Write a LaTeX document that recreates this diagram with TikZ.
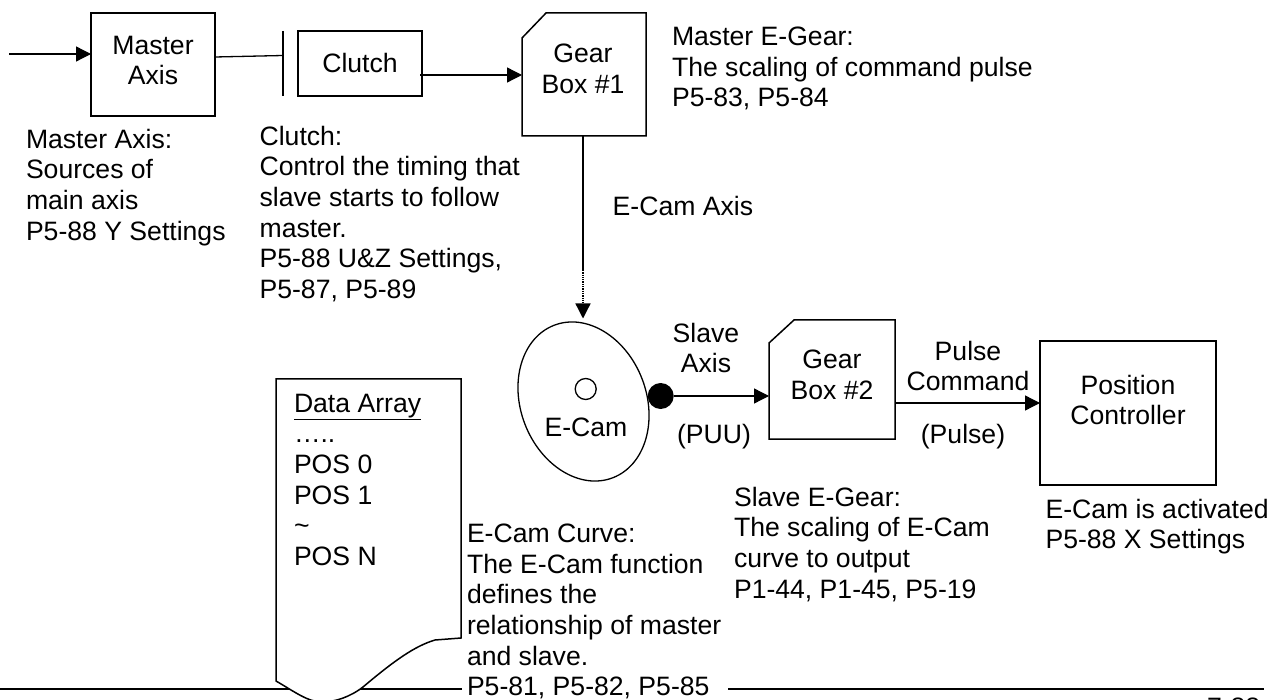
\documentclass[tikz,border=0pt]{standalone}
\usepackage{fontspec}
\setmainfont{Liberation Sans}
\usetikzlibrary{arrows.meta,shapes.geometric}
\tikzset{
 x=1pt,y=-1pt,
 box/.style={draw=black,line width=1.5pt,inner sep=0pt,outer sep=0pt},
 ghost/.style={inner sep=0pt,outer sep=0pt},
 conn/.style={draw=black,line width=1.3pt},
 arr/.style={conn,-{Triangle[length=15pt,width=15pt]}},
 txt/.style={inner sep=0pt,outer sep=0pt,align=left,anchor=north west,font=\fontsize{26.6}{30.7}\selectfont},
 ctr/.style={inner sep=0pt,outer sep=0pt,align=center,anchor=north,font=\fontsize{26.6}{30.7}\selectfont},
}
\begin{document}
\begin{tikzpicture}
\useasboundingbox (0,0) rectangle (1274,700);
\fill[white] (0,0) rectangle (1274,700);
% bottom rule
\coordinate (ruleA) at (0,689); \coordinate (ruleB) at (462,689);
\coordinate (ruleC) at (728,689); \coordinate (ruleD) at (1264,689);
\draw[conn,line width=1.8pt] (ruleA)--(ruleB);
\draw[conn,line width=1.8pt] (ruleC)--(ruleD);
% boxes
\node[box,minimum width=124pt,minimum height=103pt] (master) at (153,64.5) {};
\node[ctr] (masterT) at (153,36) {Master\\Axis};
\node[box,minimum width=124pt,minimum height=65pt] (clutch) at (360,63.5) {};
\node[ctr] (clutchT) at (360,53.5) {Clutch};
\coordinate (barT) at (283,31); \coordinate (barB) at (283,96);
\draw[conn] (barT)--(barB);
\coordinate (barM) at (283,55.5); \coordinate (masterR) at (215,57);
\draw[conn] (master.east |- masterR)--(barM);
\coordinate (inS) at (9,54);
\draw[arr] (inS)--(master.west |- inS);
% gear box 1
\node[ghost,minimum width=124pt,minimum height=123pt] (gear1) at (584,74.5) {};
\draw[box,line join=miter] (546,13)--(gear1.north east)--(gear1.south east)--(gear1.south west)--(522,38)--cycle;
\node[ctr] (gear1T) at (583,44) {Gear\\Box \#1};
\coordinate (clS) at (420,75);
\draw[arr] (clS)--(gear1.west |- clS);
\coordinate (g1M) at (583,270);
\coordinate (camTip) at (583,318.5);
\draw[conn] (gear1.south -| g1M)--(g1M);
\draw[conn,densely dotted,-{Triangle[length=15pt,width=15pt]}] (g1M)--(camTip);
% e-cam
\node[draw=black,line width=1.3pt,ellipse,inner sep=0pt,minimum width=125.6pt,minimum height=163.4pt,rotate=21] (cam) at (583.5,401.5) {};
\node[draw=black,line width=1.3pt,circle,inner sep=0pt,minimum size=21pt] (hole) at (585.7,389) {};
\node[ctr] (camT) at (586,417.5) {E-Cam};
\node[fill=black,circle,inner sep=0pt,minimum size=26pt] (dot) at (660.7,396) {};
\node[ctr] (slaveT) at (706,322.8) {Slave\\Axis};
\node[ctr] (puuT) at (714,423.8) {(PUU)};
% gear box 2
\node[ghost,minimum width=126pt,minimum height=119pt] (gear2) at (832,379.5) {};
\draw[box,line join=miter] (794,320)--(gear2.north east)--(gear2.south east)--(gear2.south west)--(769,343)--cycle;
\node[ctr] (gear2T) at (832,349.8) {Gear\\Box \#2};
\draw[arr] (dot) -- (gear2.west |- dot);
% position
\node[box,minimum width=176pt,minimum height=144pt] (pos) at (1128,413) {};
\node[ctr] (posT) at (1128,374.8) {Position\\Controller};
\coordinate (g2out) at (895,403);
\draw[arr] (g2out)--(pos.west |- g2out);
\node[ctr] (pulseT) at (968,340.8) {Pulse\\Command};
\node[ctr] (pulse2T) at (963,423.8) {(Pulse)};
% data array
\draw[box,fill=white,line join=miter] (276,379)--(461,379)--(461,638)--(435,640)
  .. controls (415,646) and (395,660) .. (363,687)
  .. controls (350,697) and (335,702) .. (322,702)
  .. controls (308,702) and (295,692) .. (276,681)--cycle;
\node[txt] (dataT) at (294,393.8) {\underline{Data Array}\\…..\\POS 0\\POS 1\\\textasciitilde\\POS N};
% descriptions
\node[txt] (t1) at (26,128.8) {Master Axis:\\Sources of\\main axis\\P5-88 Y Settings};
\node[txt] (t2) at (259.6,125.8) {Clutch:\\Control the timing that\\slave starts to follow\\master.\\P5-88 U\&Z Settings,\\P5-87, P5-89};
\node[txt] (t3) at (672,26.8) {Master E-Gear:\\The scaling of command pulse\\P5-83, P5-84};
\node[txt] (t4) at (612.7,195.8) {E-Cam Axis};
\node[txt] (t5) at (467,523.8) {E-Cam Curve:\\The E-Cam function\\defines the\\relationship of master\\and slave.\\P5-81, P5-82, P5-85};
\node[txt] (t6) at (734,486.8) {Slave E-Gear:\\The scaling of E-Cam\\curve to output\\P1-44, P1-45, P5-19};
\node[txt] (t7) at (1045.5,498.8) {E-Cam is activated\\P5-88 X Settings};
\node[txt] (t8) at (1207,698) {7-88};
\end{tikzpicture}
\end{document}
